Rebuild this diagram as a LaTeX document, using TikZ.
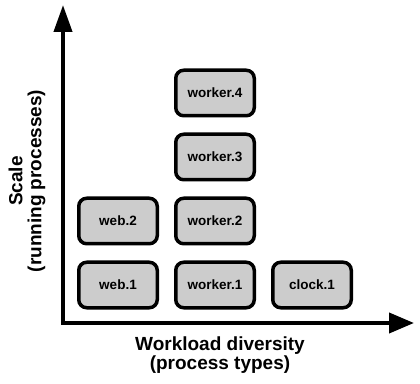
\documentclass[tikz,border=0pt]{standalone}
\usepackage{fontspec}
\setmainfont{Liberation Sans}
\usetikzlibrary{arrows.meta,positioning}
\definecolor{boxgray}{RGB}{204,204,204}

\begin{document}
\begin{tikzpicture}[x=1pt,y=1pt,
  proc/.style={draw,line width=3.5pt,rounded corners=8pt,fill=boxgray,
    minimum width=78.5pt,minimum height=45.5pt,inner sep=0pt,
    font=\fontsize{13.5}{15}\selectfont\bfseries},
  axislabel/.style={align=center,font=\fontsize{19}{19}\selectfont\bfseries},
  node distance=15pt and 15pt]
\useasboundingbox (0,0) rectangle (420,383);
\coordinate (O) at (63,60);
\coordinate (ytop) at (63,378);
\coordinate (xend) at (414,60);
% axes
\draw[line width=4pt,line join=miter,{Triangle[length=27pt,width=18pt]}-{Triangle[length=25pt,width=20pt]}]
  (ytop) -- (O) -- (xend);
% process boxes
\node[proc] (web1) at (118,98) {web.1};
\node[proc,above=of web1] (web2) {web.2};
\node[proc,right=of web1] (worker1) {worker.1};
\node[proc,above=of worker1] (worker2) {worker.2};
\node[proc,above=of worker2] (worker3) {worker.3};
\node[proc,above=of worker3] (worker4) {worker.4};
\node[proc,right=of worker1] (clock1) {clock.1};
% axis labels
\node[axislabel] (xlabel) at (220,28) {Workload diversity\\(process types)};
\node[axislabel,rotate=90] (ylabel) at (27,202) {Scale\\(running processes)};
\end{tikzpicture}
\end{document}
